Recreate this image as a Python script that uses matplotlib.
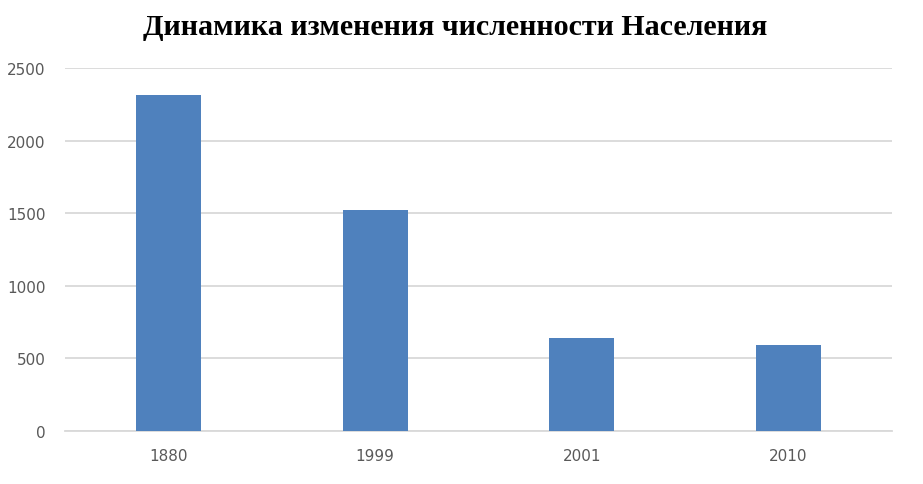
import matplotlib
matplotlib.use('Agg')
import matplotlib.pyplot as plt

# data
years = ['1880', '1999', '2001', '2010']
population = [2315, 1520, 640, 593]
y_ticks = [0, 500, 1000, 1500, 2000, 2500]

title = 'Динамика изменения численности Населения'


def main() -> None:
    fig = plt.figure(figsize=(9.23, 4.85), dpi=100)
    ax = fig.add_axes([0.0704, 0.1093, 0.896, 0.7484])

    x = range(len(years))
    ax.bar(x, population, width=0.315, color='#4f81bd', zorder=3)

    ax.set_xlim(-0.5, len(years) - 0.5)
    ax.set_ylim(0, 2500)
    ax.set_yticks(y_ticks)
    ax.set_xticks(list(x))
    ax.set_xticklabels(years)

    # gridlines like the spreadsheet chart
    ax.yaxis.grid(True, color='#d9d9d9', linewidth=1.3, zorder=0)
    for side in ['top', 'right', 'left']:
        ax.spines[side].set_visible(False)
    ax.spines['bottom'].set_color('#d9d9d9')
    ax.spines['bottom'].set_linewidth(1.3)

    ax.tick_params(axis='both', length=0, labelsize=11, colors='#595959')
    ax.tick_params(axis='x', pad=12)
    ax.tick_params(axis='y', pad=14)

    fig.text(0.493, 0.943, title, ha='center', va='center',
             fontsize=21.6, fontweight='bold', family='Liberation Serif',
             color='black')

    fig.savefig('out.png', dpi=100)


if __name__ == '__main__':
    main()
